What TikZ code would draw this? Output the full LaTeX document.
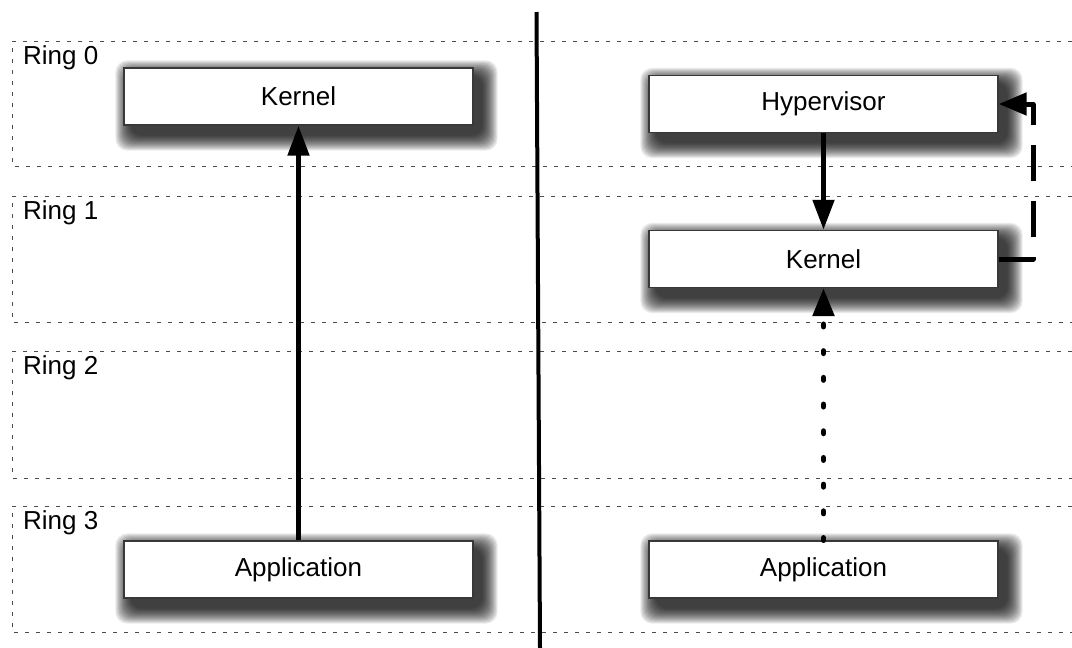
\documentclass[tikz,border=0pt]{standalone}
\usepackage{fontspec}
\setmainfont{Liberation Sans}
\usetikzlibrary{arrows.meta,calc}
\pgfdeclarelayer{back}
\pgfdeclarelayer{shade}
\pgfsetlayers{back,shade,main}
\newcommand\mkshadow[1]{%
  \foreach \i in {0,...,15}{%
    \fill[black, opacity=0.078, rounded corners=12pt]
      ($(#1.north west)+(-8+\i,-7+\i)$) rectangle ($(#1.south east)+(24-\i,25-\i)$);}}
\begin{document}
\begin{tikzpicture}[x=1pt,y=-1pt,
  ring/.style={draw=black!70, line width=1pt, dash pattern=on 4pt off 7pt},
  ringlabel/.style={anchor=base west, inner sep=0pt, font=\fontsize{26}{30}\selectfont},
  box/.style={draw=black!78, line width=1.4pt, fill=white, minimum width=349pt,
    minimum height=57pt, inner sep=0pt, font=\fontsize{26}{30}\selectfont},
  solidarrow/.style={line width=5pt, -{Triangle[length=30pt,width=21pt]}},
  dottedarrow/.style={line width=5.5pt, line cap=round, dash pattern=on 2.5pt off 24.2pt,
    -{Triangle[length=28pt,width=21pt]}},
  dashedarrow/.style={line width=5pt, line join=round, dash pattern=on 36pt off 20pt,
    -{Triangle[length=28pt,width=22pt]}},
  separator/.style={line width=4pt}
]
\useasboundingbox (0,0) rectangle (1072,648);
\begin{pgfonlayer}{back}
\fill[white] (0,0) rectangle (1072,648);
% ring bands
\draw[ring] (1072,41) -- (12,41) -- (12,166) -- (1072,166);
\draw[ring] (1072,196) -- (12,196) -- (12,322) -- (1072,322);
\draw[ring] (1072,351) -- (12,351) -- (12,478) -- (1072,478);
\draw[ring] (1072,506) -- (12,506) -- (12,632) -- (1072,632);
\end{pgfonlayer}

\node[ringlabel] (r0) at (23,64) {Ring 0};
\node[ringlabel] (r1) at (23,219) {Ring 1};
\node[ringlabel] (r2) at (23,374) {Ring 2};
\node[ringlabel] (r3) at (23,529) {Ring 3};

% separator
\coordinate (st) at (536.5,12);
\coordinate (sb) at (540,648);
\draw[separator] (st) -- (sb);

% left side
\node[box] (k1) at (298.5,96.5) {Kernel};
\node[box] (a1) at (298.5,569.5) {Application};

% right side
\node[box] (hv) at (823.5,104) {Hypervisor};
\node[box] (k2) at (823.5,259) {Kernel};
\node[box] (a2) at (823.5,569.5) {Application};

\begin{pgfonlayer}{shade}
\mkshadow{k1}\mkshadow{a1}\mkshadow{hv}\mkshadow{k2}\mkshadow{a2}
\end{pgfonlayer}

% connectors
\draw[solidarrow] (a1.north) -- (k1.south);
\draw[solidarrow] (hv.south) -- (k2.north);
\draw[dottedarrow] (a2.north) -- (k2.south);
\coordinate (dc) at (1033,104);
\draw[dashedarrow] (k2.east) -| (dc) -- (hv.east);
\end{tikzpicture}
\end{document}
